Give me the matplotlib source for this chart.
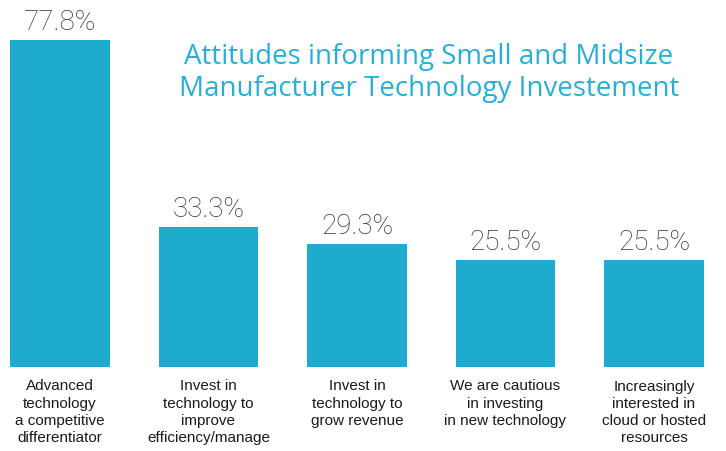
import numpy as np
import matplotlib.pyplot as plt

# data
categories = [
    "Advanced\ntechnology\na competitive\ndifferentiator",
    "Invest in\ntechnology to\nimprove\nefficiency/manage",
    "Invest in\ntechnology to\ngrow revenue",
    "We are cautious\nin investing\nin new technology",
    "Increasingly\ninterested in\ncloud or hosted\nresources",
]
values = [77.8, 33.3, 29.3, 25.5, 25.5]
title = "Attitudes informing Small and Midsize\nManufacturer Technology Investement"

bar_color = "#1eabcd"
title_color = "#2aaed6"

fig = plt.figure(figsize=(7.26, 4.51), dpi=100)
ax = fig.add_axes([0, 84 / 451, 1, 367 / 451])

x = np.arange(len(values))
bars = ax.bar(x, values, width=0.673, color=bar_color, edgecolor="none")
ax.bar_label(bars, labels=[f"{v:.1f}%" for v in values], padding=3,
             fontsize=20, color="#333333", family="Roboto", fontweight="light")

ax.set_xlim(-60 / 148.5, 666 / 148.5)
ax.set_ylim(0, 367 / 4.2)
ax.set_xticks(x)
ax.set_xticklabels(categories, fontsize=11, color="#1a1a1a",
                   family="Liberation Sans", linespacing=1.3,
                   multialignment="center")
ax.tick_params(axis="x", length=0, pad=9)
ax.set_yticks([])
for s in ax.spines.values():
    s.set_visible(False)

fig.text(429 / 726, 1 - 73 / 451, title, ha="center", va="center",
         fontsize=20, color=title_color, family="Open Sans", linespacing=1.2)

fig.savefig("out.png", dpi=100)
